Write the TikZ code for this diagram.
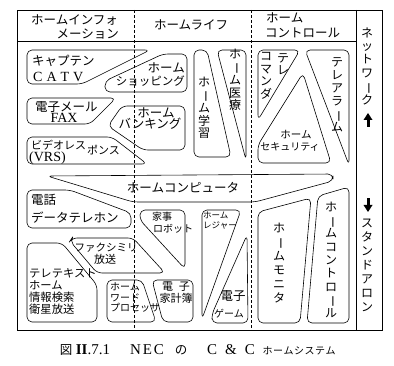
\documentclass[tikz,border=0pt]{standalone}
\usepackage{fontspec}
\setmainfont{Liberation Serif}
\newfontfamily\jp{Noto Sans CJK JP}
\newcommand\vbar{\rotatebox[origin=c]{-90}{ー}}
\begin{document}
\begin{tikzpicture}[x=1pt,y=-1pt,
  frame/.style={draw, line width=0.8pt},
  dsh/.style={draw, line width=0.5pt, dash pattern=on 3pt off 2pt},
  box/.style={draw, line width=0.6pt, rounded corners=5pt, line join=round},
  t/.style={inner sep=0pt, font=\jp\fontsize{12.5}{14}\selectfont},
  tm/.style={inner sep=0pt, font=\jp\fontsize{11}{12}\selectfont},
  ts/.style={inner sep=0pt, font=\jp\fontsize{10}{10.8}\selectfont, align=left},
  tt/.style={inner sep=0pt, font=\jp\fontsize{8.5}{9.5}\selectfont, align=left},
  ml/.style={inner sep=0pt, font=\jp\fontsize{11.3}{12.3}\selectfont, align=left},
  vt/.style={inner sep=0pt, align=center, font=\jp\fontsize{12}{#1}\selectfont},
  lat/.style={inner sep=0pt, font=\fontsize{14}{16}\selectfont},
  captxt/.style={inner sep=0pt, font=\fontsize{15}{17}\selectfont},
  capj/.style={inner sep=0pt, font=\jp\fontsize{12.5}{14}\selectfont}
]
\useasboundingbox (0,0) rectangle (394,366);
\fill[white] (0,0) rectangle (394,366);
% frame
\draw[frame] (17,10) rectangle (382,330);
\draw[frame] (17,41) -- (356,41);
\draw[frame] (356,10) -- (356,330);
\draw[dsh] (134,10) -- (134,330);
\draw[dsh] (251,10) -- (251,330);
% headers
\node[t, anchor=west] (h1a) at (31,20) {ホームインフォ};
\node[t, anchor=east] (h1b) at (119,34) {メーション};
\node[t] (h2) at (191,25) {ホームライフ};
\node[t, anchor=west] (h3a) at (266,18) {ホーム};
\node[t, anchor=west] (h3b) at (265,33) {コントロール};
% right column
\node[vt=13.4] (nw) at (367,66) {ネ\\ッ\\ト\\ワ\\\vbar\\ク};
\fill (366.5,127) rectangle (369.5,119.5);
\fill (363.5,120) -- (368,113) -- (372.5,120) -- cycle;
\fill (366.5,198) rectangle (369.5,205.5);
\fill (363.5,205) -- (368,212) -- (372.5,205) -- cycle;
\node[vt=14] (sa) at (367,265) {ス\\タ\\ン\\ド\\ア\\ロ\\ン};
% shapes
\draw[box] (27,50) -- (150,50) -- (82,84) -- (27,84) -- cycle;
\draw[box] (163,54) -- (187,54) -- (187,92) -- (105,92) -- (105,81) -- cycle;
\draw[box] (27,98) -- (116,98) -- (90,124) -- (27,124) -- cycle;
\draw[box] (122,106) -- (185,106) -- (185,150) -- (143,150) -- (108,126) -- cycle;
\draw[box] (27,137) -- (112,137) -- (147,164) -- (27,164) -- cycle;
\draw[box] (194,50) -- (207,50) -- (231,157) -- (194,157) -- cycle;
\draw[box] (217,50) -- (246,50) -- (246,160) -- cycle;
\draw[box] (258,50) -- (300,50) -- (258,120) -- cycle;
\draw[box] (305,50) -- (349,50) -- (349,165) -- cycle;
\draw[box] (303,73) -- (331,163) -- (258,163) -- (258,145) -- cycle;
\draw[box] (47,176) -- (333,174) -- (333,181) -- (255,202) -- (133,202) -- cycle;
\draw[box] (27,190) -- (70,190) -- (131,213) -- (131,228) -- (27,228) -- cycle;
\draw[box] (140,210) -- (185,210) -- (185,269) -- (140,220) -- cycle;
\draw[box] (72,238) -- (133,238) -- (165,273) -- (97,273) -- (70,241) -- cycle;
\draw[box] (27,243) -- (62,243) -- (97,285) -- (97,322) -- (27,322) -- cycle;
\draw[box] (107,280) -- (142,280) -- (156,322) -- (107,322) -- cycle;
\draw[box] (152,280) -- (193,280) -- (193,322) -- (163,322) -- cycle;
\draw[box] (202,210) -- (241,210) -- (202,319) -- cycle;
\draw[box] (247,235) -- (248,323) -- (212,323) -- (212,314) -- cycle;
\draw[box] (258,212) -- (311,198) -- (300,323) -- (258,323) -- cycle;
\draw[box] (318,196) -- (349,187) -- (349,323) -- (307,323) -- cycle;
% box texts
\node[t, anchor=west] (catv1) at (32,61) {キャプテン};
\node[lat, anchor=west] (catv2) at (33,77) {C\hspace{4pt}A\hspace{4pt}T\hspace{4pt}V};
\node[t, anchor=east] (shop1) at (185,68) {ホーム};
\node[tm, font=\jp\fontsize{11.5}{12}\selectfont, anchor=east] (shop2) at (185,81) {ショッピング};
\node[t, anchor=west] (mail1) at (35,107) {電子メール};
\node[lat] (mail2) at (64,118) {FAX};
\node[t] (bank1) at (156,113) {ホーム};
\node[t] (bank2) at (150,124) {バンキング};
\node[tm, anchor=west] (vrs1) at (31,145) {ビデオレス};
\node[tm, anchor=west] (vrs2) at (87,150) {ポンス};
\node[lat, anchor=west] (vrs3) at (29,158) {(VRS)};
\node[vt=12.5] (study) at (204,108) {ホ\\\vbar\\ム\\学\\習};
\node[vt=12.5] (med) at (235,80) {ホ\\\vbar\\ム\\医\\療};
\node[vt=12.5] (tele1) at (283,64) {テ\\レ};
\node[vt=12.5] (tele2) at (266,76) {コ\\マ\\ン\\ダ};
\node[vt=13] (alarm) at (337,95) {テ\\レ\\ア\\ラ\\\vbar\\ム};
\node[tm, font=\jp\fontsize{10.5}{12}\selectfont] (sec1) at (296,135) {ホーム};
\node[tm, font=\jp\fontsize{10}{12}\selectfont] (sec2) at (290,147) {セキュリティ};
\node[t] (comp) at (183,188) {ホームコンピュータ};
\node[t, anchor=west] (tel1) at (31,200) {電話};
\node[t, anchor=west] (tel2) at (31,218) {データテレホン};
\node[ts, anchor=west] (rob1) at (152,217) {家事};
\node[ts, anchor=west] (rob2) at (153,229) {ロボット};
\node[tm, font=\jp\fontsize{10.5}{12}\selectfont] (fax1) at (106,248) {ファクシミリ};
\node[tm] (fax2) at (105,259) {放送};
\node[ml, anchor=west] (tt) at (29,291.5) {テレテキスト\\ホーム\\情報検索\\衛星放送};
\node[ts, anchor=west] (wp) at (110,297.5) {ホーム\\ワード\\プロセッサ};
\node[inner sep=0pt, font=\jp\fontsize{11}{11.5}\selectfont, align=center] (kakei) at (176,292.5) {電\hspace{6pt}子\\家計簿};
\node[tt, anchor=west] (leis) at (203,220.5) {ホーム\\レジャー};
\node[t] (game1) at (233,296) {電子};
\node[ts] (game2) at (229,314) {ゲーム};
\node[vt=14] (mon) at (279,263) {ホ\\\vbar\\ム\\モ\\ニ\\タ};
\node[vt=13.3] (ctl) at (331,260) {ホ\\\vbar\\ム\\コ\\ン\\ト\\ロ\\\vbar\\ル};
% caption
\node[capj] (c1) at (66,350) {図};
\node[captxt] (c2) at (93,350) {\textbf{II}.7.1};
\node[captxt] (c3) at (147,350) {N\hspace{2pt}E\hspace{2pt}C};
\node[capj] (c4) at (181,350) {の};
\node[captxt] (c5) at (231,350) {C\hspace{8pt}\&\hspace{8pt}C};
\node[inner sep=0pt, font=\jp\fontsize{10}{12}\selectfont] (c6) at (299,351) {ホ\hspace{0.5pt}ー\hspace{0.5pt}ム\hspace{0.5pt}シ\hspace{0.5pt}ス\hspace{0.5pt}テ\hspace{0.5pt}ム};
\end{tikzpicture}
\end{document}
